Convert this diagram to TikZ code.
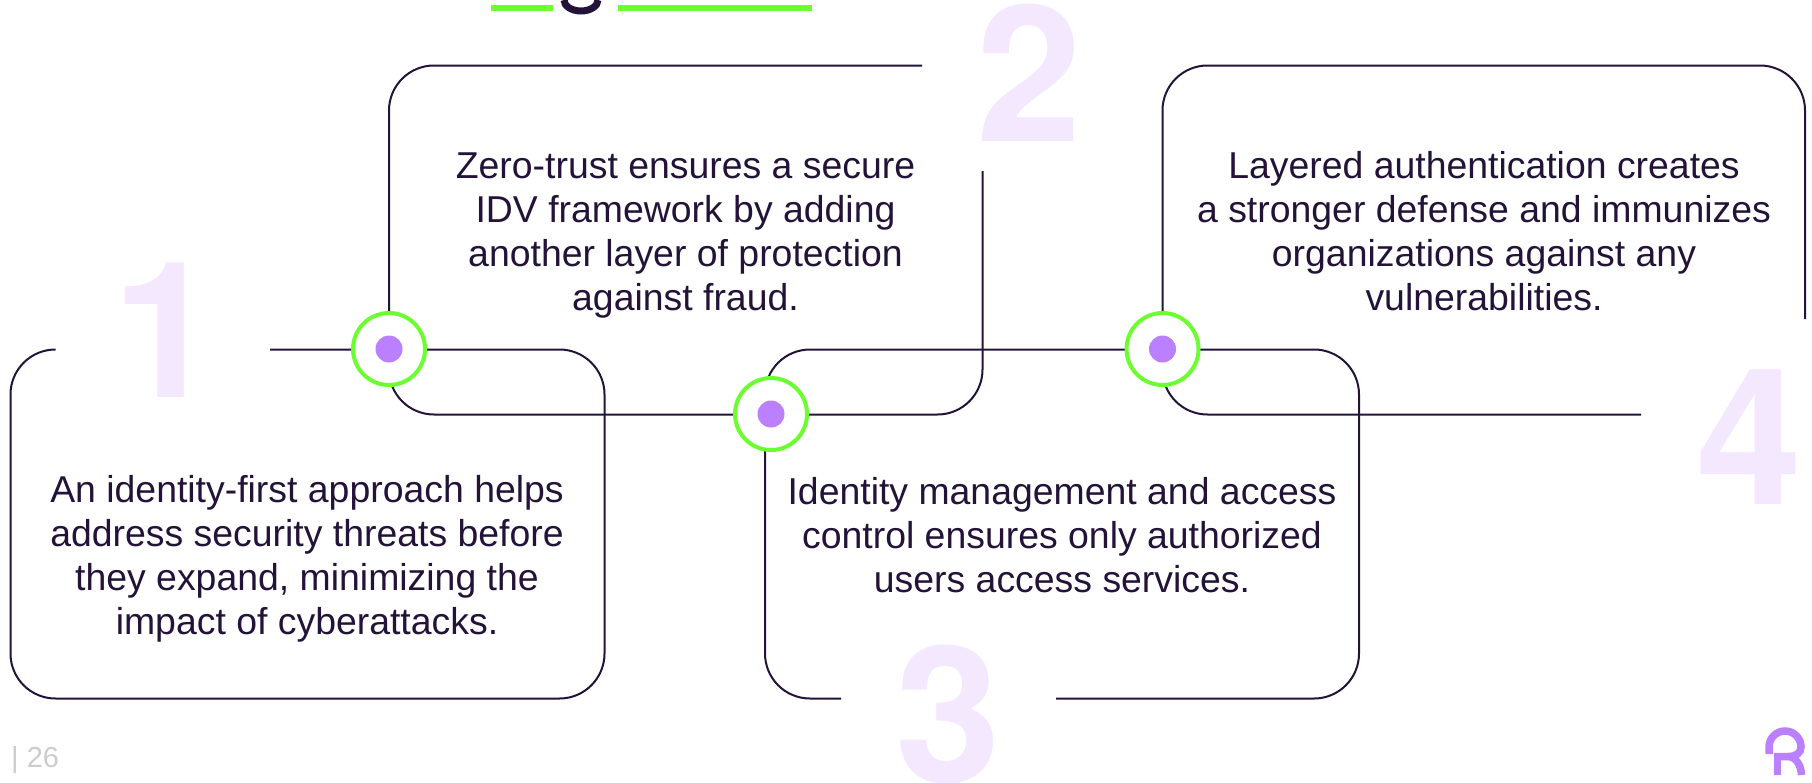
\documentclass[tikz,border=0pt]{standalone}
\usepackage{fontspec}
\setmainfont{Liberation Sans}
\newfontfamily\numfont{TeX Gyre Heros}[BoldFont={* Bold}]
\usetikzlibrary{calc}
\definecolor{inkdark}{HTML}{241339}
\definecolor{limegreen}{HTML}{6CFF2F}
\definecolor{dotpurple}{HTML}{BB80FF}
\definecolor{numpale}{HTML}{F3E8FE}
\definecolor{pagegray}{HTML}{CCCCCC}
\tikzset{
    outline/.style={draw=inkdark, line width=2pt, rounded corners=45pt},
    blurb/.style={text=inkdark, align=center, inner sep=0pt, font=\fontsize{37.4}{44}\selectfont},
    bignum/.style={text=numpale, anchor=base, inner sep=0pt, font=\fontsize{190}{190}\numfont\bfseries},
    ring/.style={circle, draw=limegreen, line width=4pt, fill=white, minimum size=72pt, inner sep=0pt},
    pip/.style={circle, fill=dotpurple, minimum size=27pt, inner sep=0pt}
}
\begin{document}
\begin{tikzpicture}[x=1pt, y=-1pt]
        \useasboundingbox (0,0) rectangle (1812,782);

        % Title remains at the top edge
        \fill[limegreen] (491,5) rectangle (553,11);
        \fill[limegreen] (618,5) rectangle (812,11);
        \draw[inkdark, line width=7pt] (564,0) arc[start angle=180, end angle=0, x radius=17, y radius=11];

        % Big numbers
        \node[bignum] (numA) at (165,397) {1};
        \node[bignum] (numB) at (1029,141) {2};
        \node[bignum] (numC) at (948,782) {3};
        \node[bignum] (numD) at (1749,504) {4};

        % Box 1
        \draw[outline] (55,349.5) -- (10.5,349.5) -- (10.5,698.5) -- (604.5,698.5) -- (604.5,349.5) -- (270,349.5);
        % Box 2
        \draw[outline] (922,65.5) -- (389,65.5) -- (389,414.5) -- (982.5,414.5) -- (982.5,171);
        % Box 3
        \draw[outline] (841,698.5) -- (765,698.5) -- (765,349.5) -- (1359,349.5) -- (1359,698.5) -- (1056,698.5);
        % Box 4
        \draw[outline] (1805,319) -- (1805,65.5) -- (1162.5,65.5) -- (1162.5,414.5) -- (1641,414.5);

        % Dots on the lines
        \foreach \name/\x/\y in {dotA/389/349, dotB/771/414, dotC/1162.5/349} {
            \node[ring] (\name) at (\x,\y) {};
            \node[pip] at (\name) {};
        }

        % Texts
        \node[blurb] (textA) at (307,558.5) {An identity-first approach helps\\address security threats before\\they expand, minimizing the\\impact of cyberattacks.};
        \node[blurb] (textB) at (685.5,236) {Zero-trust ensures a secure\\IDV framework by adding\\another layer of protection\\against fraud.};
        \node[blurb] (textC) at (1062,535) {Identity management and access\\control ensures only authorized\\users access services.};
        \node[blurb] (textD) at (1484,231) {Layered authentication creates\\a stronger defense and immunizes\\organizations against any\\vulnerabilities.};

        % Page number
        \node[text=pagegray, anchor=west, inner sep=0pt, font=\fontsize{29}{29}\selectfont] (pagenum) at (11,760) {| 26};

        % Logo
        \draw[dotpurple, line width=7.5pt] (1769,754) -- (1769,747) arc[start angle=180, end angle=360, radius=16] .. controls (1801,753) and (1796,756.5) .. (1788,756.5) -- (1774,756.5);
        \draw[dotpurple, line width=7.5pt] (1777.5,756) -- (1777.5,775);
        \draw[dotpurple, line width=7.5pt] (1789,756.5) .. controls (1797,758) and (1801,766) .. (1801.5,775);
\end{tikzpicture}
\end{document}
